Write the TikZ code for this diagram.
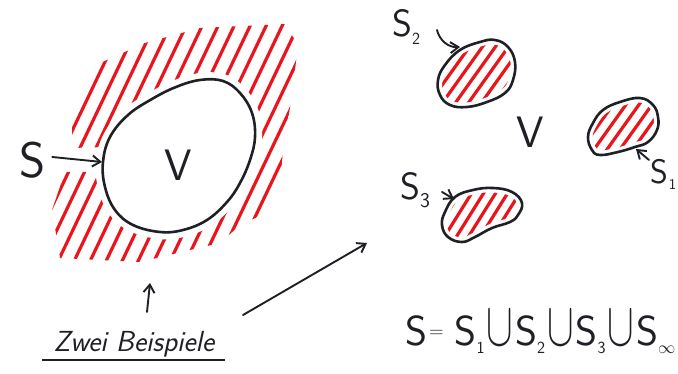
\documentclass[tikz,border=0pt]{standalone}
\usetikzlibrary{arrows.meta,calc}
\definecolor{ink}{RGB}{30,32,38}
\definecolor{hred}{RGB}{232,22,28}
\newcommand{\myfs}[1]{\fontsize{#1}{#1}\selectfont}
\newcommand{\uni}{\hspace{2pt}\scalebox{1.6}[2.5]{$\cup$}\hspace{2pt}}
\newcommand{\hatchlines}[4]{%
  \foreach \i in {-16,...,16}{\draw[hatch] ({#1+\i*#3-90},{#2+90*#4}) -- ({#1+\i*#3+90},{#2-90*#4});}}
\begin{document}
\begin{tikzpicture}[x=1pt,y=-1pt,
  outl/.style={line width=2.6pt, draw=ink, line join=round},
  gapline/.style={line width=#1, draw=white},
  hatch/.style={line width=3.2pt, draw=hred, line cap=round},
  arr/.style={line width=1.9pt, draw=ink, line cap=round,
     -{Straight Barb[length=8pt,width=11pt,line width=1.9pt]}},
  lbl/.style={inner sep=0pt, text=ink, font=\sffamily}]
\useasboundingbox (0,0) rectangle (678,374);
\clip (0,0) rectangle (678,374);
\fill[white] (0,0) rectangle (678,374);

% ---------- big region on the left ----------
\begin{scope}
  \clip (78,108) -- (98,64) -- (118,55) -- (145,43) -- (200,28) -- (285,24) -- (298,45)
     -- (292,95) -- (283,150) -- (280,185) -- (262,215) -- (240,225) -- (220,243)
     -- (190,250) -- (140,262) -- (60,258) -- (52,210) -- (65,172) -- (105,172)
     -- (105,147) -- (72,148) -- (72,125) -- cycle;
  \foreach \i in {-16,...,16}{\draw[hatch] ({175+\i*16-70},{150+147}) -- ({175+\i*16+70},{150-147});}
\end{scope}
\newcommand{\bigblob}{plot[smooth cycle, tension=0.65] coordinates {(103,162) (110,137) (128,115) (152,99) (176,87) (200,80) (223,81) (240,93) (252,113) (255,137) (250,160) (240,183) (227,202) (207,220) (183,230) (160,232) (133,225) (115,210) (105,187)}}
\fill[white, draw=white, line width=14pt] \bigblob;
\draw[outl] \bigblob;

\node[lbl, font=\sffamily\myfs{50}] (S) at (33,160) {S};
\node[lbl, font=\sffamily\myfs{44}] (V) at (178,165) {V};
\coordinate (sTip) at (102,162);
\draw[arr] (S.east) ++(6,-3) coordinate (sTail) -- (sTip);

\node[lbl, font=\sffamily\itshape\myfs{29}, anchor=base] (zb) at (134,352) {Zwei Beispiele};
\coordinate (ulA) at (42,360);
\coordinate (ulB) at (225,360);
\draw[ink, line width=1.6pt] (ulA) -- (ulB);
\coordinate (upTail) at (147,312);
\coordinate (upTip) at (150,283);
\draw[arr] (upTail) -- (upTip);
\coordinate (lngTail) at (243,315);
\coordinate (lngTip) at (367,243);
\draw[arr] (lngTail) -- (lngTip);

% ---------- three small regions on the right ----------
\newcommand{\blobA}{plot[smooth cycle, tension=0.7] coordinates {(460,50) (480,42) (495,40) (508,47) (515,62) (513,80) (505,93) (487,102) (467,107) (450,105) (440,95) (438,80) (445,65)}}
\newcommand{\blobB}{plot[smooth cycle, tension=0.7] coordinates {(455,197) (473,190) (493,188) (512,192) (522,203) (518,215) (510,222) (492,228) (475,237) (462,242) (448,237) (442,225) (445,212)}}
\newcommand{\blobC}{plot[smooth cycle, tension=0.7] coordinates {(593,123) (603,110) (620,102) (640,98) (653,105) (658,117) (657,130) (648,142) (635,147) (618,152) (600,155) (592,150) (588,137)}}

\begin{scope}\clip \blobA; \hatchlines{476}{74}{13}{1.4} \end{scope}
\draw[gapline=9pt] \blobA; \draw[outl] \blobA;
\begin{scope}\clip \blobB; \hatchlines{482}{215}{12}{1.6} \end{scope}
\draw[gapline=9pt] \blobB; \draw[outl] \blobB;
\begin{scope}\clip \blobC; \hatchlines{623}{127}{13}{1.4} \end{scope}
\draw[gapline=9pt] \blobC; \draw[outl] \blobC;

\node[lbl, font=\sffamily\myfs{44}] (V2) at (530,132) {V};

\node[lbl, anchor=base west] (S2) at (392,37) {\myfs{38}S\raisebox{-8pt}{\myfs{17}2}};
\coordinate (s2Tail) at (437,30);
\coordinate (s2Tip) at (460,47);
\draw[arr] (s2Tail) to[bend right=40] (s2Tip);

\node[lbl, anchor=base west] (S3) at (400,200) {\myfs{38}S\raisebox{-8pt}{\myfs{21}3}};
\coordinate (s3Tail) at (442,192);
\coordinate (s3Tip) at (454,199);
\draw[arr] (s3Tail) -- (s3Tip);

\node[lbl, anchor=base west] (S1) at (650,184) {\myfs{34}S\hspace{1pt}\raisebox{-6pt}{\myfs{15}1}};
\coordinate (s1Tail) at (649,160);
\coordinate (s1Tip) at (636,149);
\draw[arr] (s1Tail) -- (s1Tip);

% ---------- formula ----------
\node[lbl, anchor=base west] (F) at (405,345)
  {\myfs{42}S\hspace{2pt}\raisebox{8pt}{\myfs{20}=}\hspace{11pt}S\raisebox{-8pt}{\myfs{17}1}\uni S\raisebox{-8pt}{\myfs{17}2}\uni S\raisebox{-8pt}{\myfs{17}3}\uni S\raisebox{-8pt}{\myfs{17}$\infty$}};
\end{tikzpicture}
\end{document}
